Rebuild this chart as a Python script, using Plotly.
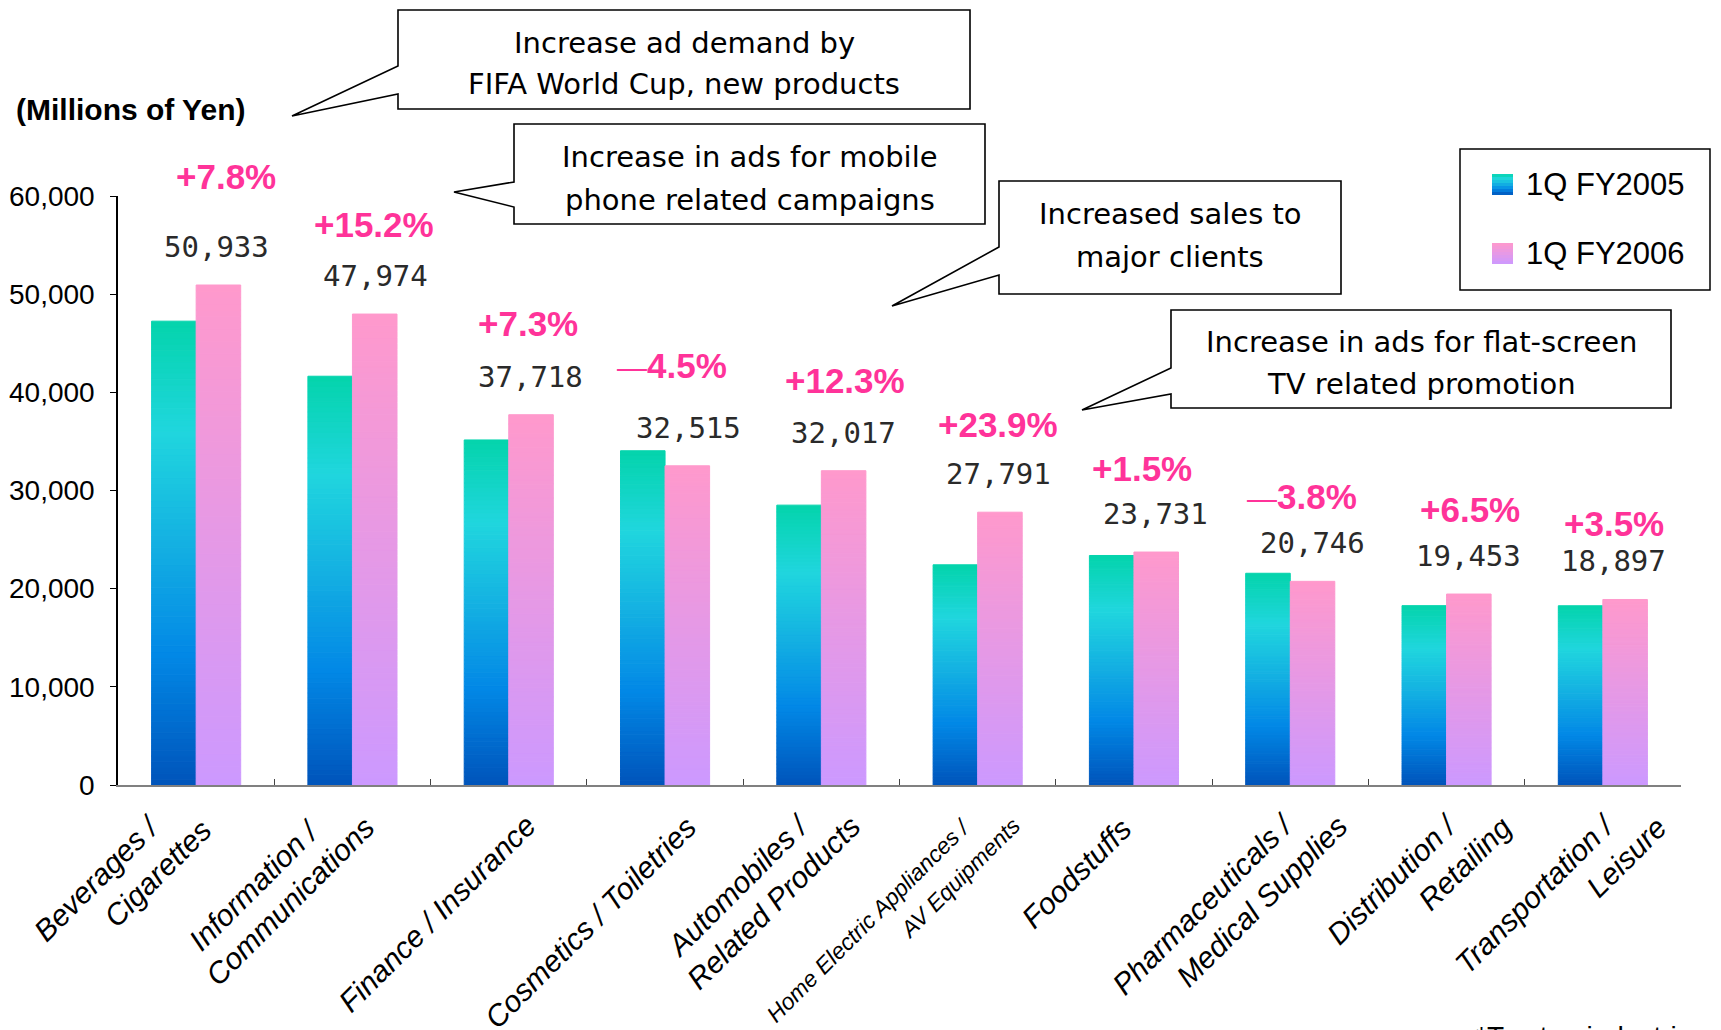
import plotly.graph_objects as go

# ---------------- data ----------------
categories = [
    "Beverages / Cigarettes",
    "Information / Communications",
    "Finance / Insurance",
    "Cosmetics / Toiletries",
    "Automobiles / Related Products",
    "Home Electric Appliances / AV Equipments",
    "Foodstuffs",
    "Pharmaceuticals / Medical Supplies",
    "Distribution / Retailing",
    "Transportation / Leisure",
]
label_lines = [
    ["Beverages /", "Cigarettes"],
    ["Information /", "Communications"],
    ["Finance / Insurance"],
    ["Cosmetics / Toiletries"],
    ["Automobiles /", "Related Products"],
    ["Home Electric Appliances /", "AV Equipments"],
    ["Foodstuffs"],
    ["Pharmaceuticals /", "Medical Supplies"],
    ["Distribution /", "Retailing"],
    ["Transportation /", "Leisure"],
]
fy2005 = [47250, 41640, 35150, 34050, 28510, 22430, 23380, 21570, 18270, 18260]
fy2006 = [50933, 47974, 37718, 32515, 32017, 27791, 23731, 20746, 19453, 18897]
value_labels = ["50,933", "47,974", "37,718", "32,515", "32,017",
                "27,791", "23,731", "20,746", "19,453", "18,897"]
pct_labels = ["+7.8%", "+15.2%", "+7.3%", "−4.5%", "+12.3%",
              "+23.9%", "+1.5%", "−3.8%", "+6.5%", "+3.5%"]
series_names = ["1Q FY2005", "1Q FY2006"]
y_title = "(Millions of Yen)"
callouts = [
    ["Increase ad demand by", "FIFA World Cup, new products"],
    ["Increase in ads for mobile", "phone related campaigns"],
    ["Increased sales to", "major clients"],
    ["Increase in ads for flat-screen", "TV related promotion"],
]
footnote = "*Top ten industries"

# ---------------- style / layout ----------------
W, H = 1721, 1030
L, R, T, B = 118, 40, 196, 245
PW, PH = W - L - R, H - T - B
BOTTOM = H - B


def pxx(x):
    return (x - L) / PW


def pxy(y):
    return (BOTTOM - y) / PH


blue_stops = [(0.0, (0, 84, 186)), (0.28, (2, 136, 230)), (0.52, (20, 176, 226)),
              (0.76, (32, 214, 222)), (1.0, (4, 212, 172))]
pink_stops = [(0.0, (204, 153, 255)), (1.0, (255, 153, 204))]


def interp(stops, t):
    for (t0, c0), (t1, c1) in zip(stops[:-1], stops[1:]):
        if t0 <= t <= t1:
            f = (t - t0) / (t1 - t0)
            return tuple(round(a + (b - a) * f) for a, b in zip(c0, c1))
    return stops[-1][1]


N = 80
BW = 0.285
fig = go.Figure()
for vals, off, stops in [(fy2005, -BW, blue_stops), (fy2006, 0.0, pink_stops)]:
    for k in range(N):
        c = interp(stops, (k + 0.5) / N)
        col = f"rgb({c[0]},{c[1]},{c[2]})"
        fig.add_trace(go.Bar(
            x=categories,
            y=[v / N for v in vals],
            base=[v * k / N for v in vals],
            offset=off, width=BW,
            marker=dict(color=col, line=dict(width=1, color=col)),
            showlegend=False, hoverinfo="skip",
        ))

annotations = []
shapes = []

# value labels over FY2006 bars
val_dx = [-2, 1, 0, 1, 0, -1, 0, 0, 0, -11]
for i, (cat, v, lab) in enumerate(zip(categories, fy2006, value_labels)):
    annotations.append(dict(
        x=cat, y=v, xref="x", yref="y", text=lab, showarrow=False,
        xshift=22 + val_dx[i], yshift=38, xanchor="center", yanchor="middle",
        font=dict(family="DejaVu Sans Mono", size=29, color="#2a2a2a"),
    ))

# percentage labels
pct_dx = [8, 0, -3, -15, 2, -2, -14, -10, 1, -11]
pct_dy = [109, 90, 91, 100, 90, 88, 84, 85, 85, 76]
for i, (cat, v, lab) in enumerate(zip(categories, fy2006, pct_labels)):
    txt = lab
    if txt.startswith("−"):
        txt = "<span style='font-weight:normal;font-size:30px'>—</span>" + txt[1:]
    annotations.append(dict(
        x=cat, y=v, xref="x", yref="y", text=txt, showarrow=False,
        xshift=22 + pct_dx[i], yshift=pct_dy[i], xanchor="center", yanchor="middle",
        font=dict(family="Liberation Sans", size=35, color="#FF3399", weight="bold"),
    ))

# category labels (rotated), one annotation per line
line_off = [
    [(-100, 93), (-39, 88)],
    [(-99, 100), (-63, 116)],
    [(-72, 128)],
    [(-75, 137)],
    [(-84, 100), (-48, 117)],
    [(-109, 135), (-18, 93)],
    [(-58, 88)],
    [(-88, 119), (-29, 116)],
    [(-55, 94), (18, 78)],
    [(-68, 108), (23, 72)],
]
for i, (cat, lines) in enumerate(zip(categories, label_lines)):
    size = 23 if i == 5 else 30
    for text, (dx, dy) in zip(lines, line_off[i]):
        annotations.append(dict(
            x=cat, y=0, xref="x", yref="y", text=text, showarrow=False,
            xshift=dx, yshift=-dy, textangle=-45, xanchor="center", yanchor="middle",
            font=dict(family="Liberation Sans", size=size, color="black", style="italic"),
        ))

# y-axis title
annotations.append(dict(
    x=pxx(14), y=pxy(110), xref="paper", yref="paper", text="<b>" + y_title + "</b>",
    showarrow=False, xanchor="left", yanchor="middle",
    font=dict(family="Liberation Sans", size=30, color="black"),
))

# callouts: box (x0, y0, x1, y1), attach y's, tip, text line y's
callout_geom = [
    ((398, 10, 970, 109), (66, 94), (292, 116), (43, 84)),
    ((514, 124, 985, 224), (182, 207), (454, 192), (157, 200)),
    ((999, 181, 1341, 294), (247, 275), (892, 306), (214, 257)),
    ((1171, 310, 1671, 408), (368, 394), (1082, 410), (342, 384)),
]
for (box, att, tip, ly), lines in zip(callout_geom, callouts):
    x0, y0, x1, y1 = box
    pts = [(x0, y0), (x1, y0), (x1, y1), (x0, y1), (x0, att[1]), tip, (x0, att[0])]
    path = "M " + " L ".join(f"{pxx(a):.5f},{pxy(b):.5f}" for a, b in pts) + " Z"
    shapes.append(dict(type="path", path=path, xref="paper", yref="paper",
                       fillcolor="white", line=dict(color="black", width=1.6), layer="above"))
    for text, yy in zip(lines, ly):
        annotations.append(dict(
            x=pxx((x0 + x1) / 2), y=pxy(yy), xref="paper", yref="paper", text=text,
            showarrow=False, xanchor="center", yanchor="middle",
            font=dict(family="DejaVu Sans", size=29, color="black"),
        ))

# legend (custom)
shapes.append(dict(type="rect", xref="paper", yref="paper",
                   x0=pxx(1460), x1=pxx(1710), y0=pxy(149), y1=pxy(290),
                   fillcolor="white", line=dict(color="black", width=1.5), layer="above"))
for stops, (sy0, sy1), ty, name in [(blue_stops, (174, 195), 184, series_names[0]),
                                    (pink_stops, (243, 264), 253, series_names[1])]:
    n = 7
    for k in range(n):
        c = interp(stops, 1 - (k + 0.5) / n)
        a = sy0 + (sy1 - sy0) * k / n
        b = sy0 + (sy1 - sy0) * (k + 1) / n
        shapes.append(dict(type="rect", xref="paper", yref="paper",
                           x0=pxx(1492), x1=pxx(1513), y0=pxy(b), y1=pxy(a),
                           fillcolor=f"rgb({c[0]},{c[1]},{c[2]})", line=dict(width=0), layer="above"))
    annotations.append(dict(
        x=pxx(1524), y=pxy(ty), xref="paper", yref="paper", text=name, showarrow=False,
        xanchor="left", yanchor="middle",
        font=dict(family="Liberation Sans", size=31, color="black"),
    ))

# footnote (partly below the bottom edge, as in the original)
annotations.append(dict(
    x=pxx(1474), y=pxy(1019), xref="paper", yref="paper", text=footnote, showarrow=False,
    xanchor="left", yanchor="top",
    font=dict(family="Liberation Sans", size=28, color="black"),
))

fig.update_layout(
    width=W, height=H,
    margin=dict(l=L, r=R, t=T, b=B, autoexpand=False),
    paper_bgcolor="white", plot_bgcolor="white",
    barmode="overlay",
    showlegend=False,
    annotations=annotations,
    shapes=shapes,
    font=dict(family="Liberation Sans", color="black"),
)
fig.update_yaxes(
    range=[0, 60000], tickvals=[0, 10000, 20000, 30000, 40000, 50000, 60000],
    tickformat=",", showgrid=False, zeroline=False,
    showline=True, linecolor="black", linewidth=1.5,
    ticks="outside", ticklen=6, tickcolor="black", tickwidth=1.2,
    tickfont=dict(family="Liberation Sans", size=28, color="black"),
    ticklabelstandoff=10,
)
fig.update_xaxes(
    type="category", showgrid=False, zeroline=False,
    showline=True, linecolor="#808080", linewidth=2,
    ticks="inside", tickson="boundaries", ticklen=6, tickcolor="#444444", tickwidth=1.2,
    showticklabels=False,
    range=[-0.5, 9.5],
)

fig.write_html("out.html", config={"displayModeBar": False},
               post_script="document.body.style.margin='0px';")
